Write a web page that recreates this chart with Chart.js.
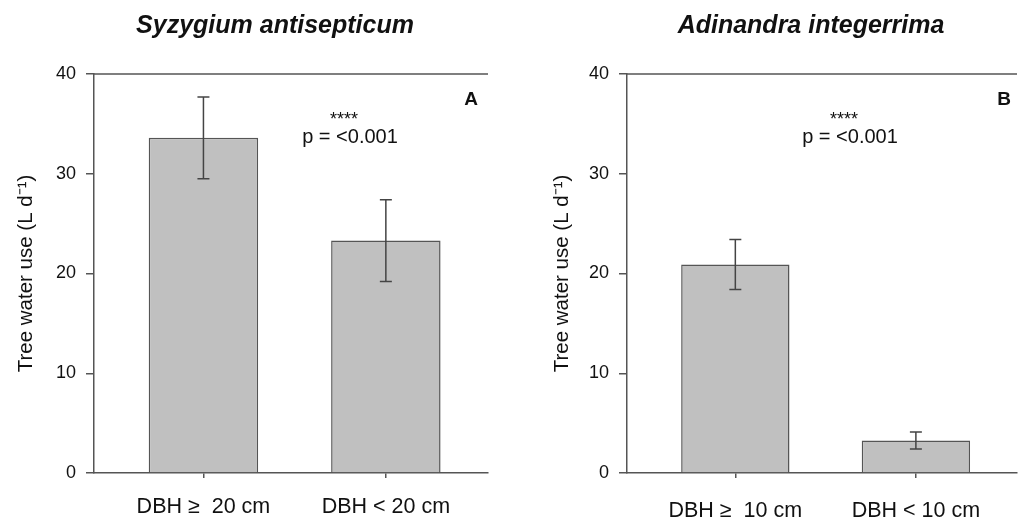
<!DOCTYPE html>
<html>
<head>
<meta charset="utf-8">
<script src="https://cdn.jsdelivr.net/npm/chart.js@4.4.1/dist/chart.umd.min.js"></script>
<style>
  body { margin: 0; background: #fff; width: 1019px; height: 522px; overflow: hidden; position: relative; }
  .panel { position: absolute; top: 0; height: 522px; }
  #panelA { left: 0; width: 490px; }
  #panelB { left: 530px; width: 489px; }
</style>
</head>
<body>
<div class="panel" id="panelA"><canvas id="chartA"></canvas></div>
<div class="panel" id="panelB"><canvas id="chartB"></canvas></div>
<script>
// daily tree water use per diameter class, mean with error bar
const speciesA = "Syzygium antisepticum"
const labelsA = ["DBH \u2265  20 cm", "DBH < 20 cm"]
const meansA = [33.6, 23.3]
const errorsA = [4.1, 4.1]

const speciesB = "Adinandra integerrima"
const labelsB = ["DBH \u2265  10 cm", "DBH < 10 cm"]
const meansB = [20.9, 3.25]
const errorsB = [2.5, 0.85]

const yTicks = [0, 10, 20, 30, 40]
const yTitle = "Tree water use (L d\u207B\u00B9)"
const starText = "****"
const pText = "p = <0.001"

Chart.defaults.font.family = '"Liberation Sans", Arial, sans-serif'
Chart.defaults.color = '#111'

const axisColor = '#555'

// error bars drawn from the dataset's own scale
const errorBars = {
  id: 'errorBars',
  afterDatasetsDraw(chart, args, opts) {
    const ctx = chart.ctx
    const y = chart.scales.y
    const meta = chart.getDatasetMeta(0)
    ctx.save()
    ctx.strokeStyle = '#444'
    ctx.lineWidth = 1.5
    meta.data.forEach((bar, i) => {
      const v = opts.means[i], e = opts.errors[i]
      const top = y.getPixelForValue(v + e)
      const bot = y.getPixelForValue(v - e)
      ctx.beginPath()
      ctx.moveTo(bar.x, top); ctx.lineTo(bar.x, bot)
      ctx.moveTo(bar.x - 6, top); ctx.lineTo(bar.x + 6, top)
      ctx.moveTo(bar.x - 6, bot); ctx.lineTo(bar.x + 6, bot)
      ctx.stroke()
    })
    ctx.restore()
  }
}

// frame top line, species title, panel letter, significance text
const panelText = {
  id: 'panelText',
  afterDraw(chart, args, o) {
    const ctx = chart.ctx
    const area = chart.chartArea
    ctx.save()
    ctx.strokeStyle = axisColor
    ctx.lineWidth = 1.5
    ctx.beginPath()
    ctx.moveTo(area.left, area.top); ctx.lineTo(area.right, area.top)
    ctx.stroke()

    ctx.fillStyle = '#111'
    ctx.textBaseline = 'alphabetic'
    ctx.textAlign = 'center'
    ctx.font = 'italic bold 25px "Liberation Sans", Arial, sans-serif'
    ctx.fillText(o.title, o.titleX, 33)

    ctx.font = '18px "Liberation Sans", Arial, sans-serif'
    ctx.fillText(starText, o.pX - 6, 125)
    ctx.font = '20px "Liberation Sans", Arial, sans-serif'
    ctx.fillText(pText, o.pX, 143)

    ctx.textAlign = 'right'
    ctx.font = 'bold 19px "Liberation Sans", Arial, sans-serif'
    ctx.fillText(o.letter, area.right - o.letterInset, 105)
    ctx.restore()
  }
}

function makeChart(id, labels, means, errors, cfg) {
  return new Chart(document.getElementById(id), {
    type: 'bar',
    data: {
      datasets: [{
        data: means.map((v, i) => ({ x: i, y: v })),
        backgroundColor: '#c0c0c0',
        borderColor: '#555',
        borderWidth: 1.5,
        barPercentage: 0.6,
        categoryPercentage: 1
      }]
    },
    options: {
      responsive: true,
      maintainAspectRatio: false,
      animation: false,
      layout: { padding: { top: 74, right: 2, left: 0, bottom: 0 } },
      plugins: {
        legend: { display: false },
        tooltip: { enabled: false },
        errorBars: { means: means, errors: errors },
        panelText: cfg.text
      },
      scales: {
        x: {
          type: 'linear',
          offset: false,
          min: -0.6,
          max: 1.56,
          afterBuildTicks: (s) => { s.ticks = labels.map((l, i) => ({ value: i })) },
          afterFit: (s) => { s.height = 49 },
          ticks: {
            callback: (v) => labels[v],
            font: { size: 21.5 },
            color: '#111',
            padding: cfg.xPad,
            maxRotation: 0
          },
          grid: { offset: false, drawOnChartArea: false, tickLength: 5, color: axisColor, lineWidth: 1.5 },
          border: { color: axisColor, width: 1.5 }
        },
        y: {
          min: 0,
          max: 40,
          afterBuildTicks: (s) => { s.ticks = yTicks.map(v => ({ value: v })) },
          afterFit: (s) => { s.width = cfg.yWidth },
          ticks: { font: { size: 18 }, color: '#111', padding: 10 },
          grid: { drawOnChartArea: false, tickLength: 8, color: axisColor, lineWidth: 1.5 },
          border: { color: axisColor, width: 1.5 },
          title: {
            display: true,
            text: yTitle,
            font: { size: 20.5 },
            color: '#111',
            padding: { top: cfg.yTitlePad, bottom: 0 }
          }
        }
      }
    },
    plugins: [errorBars, panelText]
  })
}

makeChart('chartA', labelsA, meansA, errorsA, {
  yWidth: 94, yTitlePad: 14, xPad: 16,
  text: { title: speciesA, titleX: 275, pX: 350, letter: 'A', letterInset: 10 }
})
makeChart('chartB', labelsB, meansB, errorsB, {
  yWidth: 97, yTitlePad: 20, xPad: 20,
  text: { title: speciesB, titleX: 281, pX: 320, letter: 'B', letterInset: 6 }
})
</script>
</body>
</html>
